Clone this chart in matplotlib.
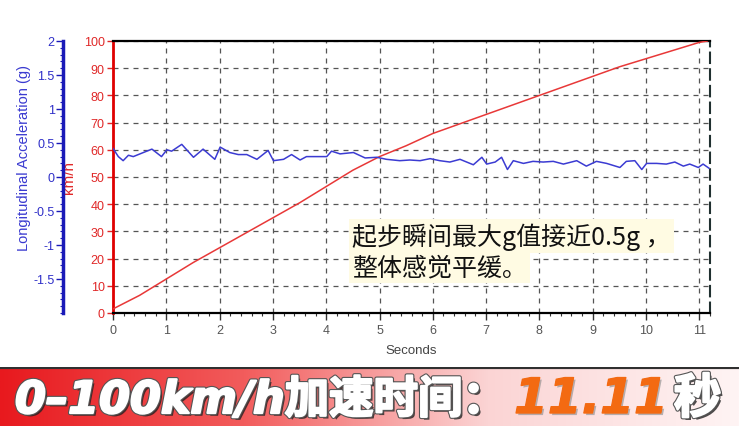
import matplotlib
matplotlib.use('Agg')
import matplotlib.pyplot as plt
import matplotlib.patheffects as pe
from matplotlib.ticker import MultipleLocator
import numpy as np

plt.rcParams['font.family'] = ['Liberation Sans', 'Noto Sans CJK SC', 'DejaVu Sans']

# speed trace (km/h vs s)
speed_t = [0, 0.5, 1.0, 1.5, 2.0, 2.5, 3.0, 3.5, 4.0, 4.5, 5.0, 5.5, 6.0,
           6.5, 7.0, 7.5, 8.0, 8.5, 9.0, 9.5, 10.0, 10.5, 11.0, 11.15]
speed_kmh = [1.5, 6.5, 12.5, 18.5, 24, 29.5, 35, 40.5, 46.5, 52.5, 57.5, 61.5, 66,
             69.5, 73, 76.5, 80, 83.5, 87, 90.5, 93.5, 96.5, 99.5, 100]

# longitudinal acceleration trace (g vs s)
acc_t = [0.00, 0.10, 0.19, 0.29, 0.38, 0.57, 0.73, 0.91, 1.01, 1.10, 1.29, 1.51,
         1.69, 1.91, 2.01, 2.19, 2.35, 2.51, 2.70, 2.91, 3.01, 3.20, 3.35, 3.51,
         3.63, 4.01, 4.10, 4.26, 4.51, 4.73, 4.95, 5.13, 5.38, 5.57, 5.76, 5.95,
         6.13, 6.32, 6.51, 6.76, 6.92, 7.01, 7.17, 7.29, 7.40, 7.51, 7.70, 7.88,
         8.07, 8.26, 8.45, 8.70, 8.88, 9.07, 9.26, 9.51, 9.63, 9.79, 9.92, 10.01,
         10.20, 10.38, 10.54, 10.70, 10.82, 10.98, 11.07, 11.18]
acc_g = [0.42, 0.30, 0.24, 0.32, 0.30, 0.36, 0.41, 0.30, 0.40, 0.38, 0.48, 0.29,
         0.41, 0.26, 0.44, 0.36, 0.33, 0.33, 0.26, 0.39, 0.24, 0.26, 0.33, 0.25,
         0.30, 0.30, 0.38, 0.34, 0.36, 0.28, 0.29, 0.26, 0.24, 0.25, 0.24, 0.27,
         0.24, 0.22, 0.26, 0.18, 0.29, 0.19, 0.22, 0.29, 0.11, 0.24, 0.20, 0.23,
         0.22, 0.23, 0.19, 0.24, 0.16, 0.23, 0.20, 0.14, 0.23, 0.24, 0.11, 0.20,
         0.20, 0.19, 0.22, 0.16, 0.19, 0.14, 0.19, 0.13]

sec_ticks = list(range(12))
kmh_ticks = list(range(0, 101, 10))
g_ticks = [-1.5, -1, -0.5, 0, 0.5, 1, 1.5, 2]
g_labels = ['-1.5', '-1', '-0.5', '0', '0.5', '1', '1.5', '2']

RED = '#e02828'
BLUE = '#2f2fc8'

fig = plt.figure(figsize=(7.39, 4.27), dpi=100)
W, H = 739, 427
ax = fig.add_axes([113 / W, 1 - 314 / H, (710 - 113) / W, (314 - 42) / H])

ax.plot(speed_t, speed_kmh, color='#e83838', lw=1.1, zorder=3)
ax.set_xlim(0, 11.2)
ax.set_ylim(0, 100)
ax.set_xticks(sec_ticks)
ax.xaxis.set_minor_locator(MultipleLocator(0.2))
ax.set_yticks(kmh_ticks)
ax.grid(True, which='major', ls=(0, (4, 4)), color='#555555', lw=0.9)
ax.tick_params(axis='x', which='major', length=5, width=1, colors='#333',
               labelcolor='#555', labelsize=9, pad=3)
ax.tick_params(axis='x', which='minor', length=2.5, width=0.8, colors='#333')
ax.tick_params(axis='y', which='major', length=4, width=1, colors=RED,
               labelcolor=RED, labelsize=9, pad=2)
for s in ['bottom', 'top']:
    ax.spines[s].set_color('black')
    ax.spines[s].set_linewidth(1.6)
ax.spines['left'].set_color('#e00000')
ax.spines['left'].set_linewidth(2)
ax.spines['right'].set_linestyle((0, (5, 3)))
ax.spines['right'].set_color('#203030')
ax.spines['right'].set_linewidth(1.5)
ax.set_xlabel('Seconds', fontsize=9.5, color='#444')
ax.xaxis.set_label_coords(0.499, -0.115)
ax.set_ylabel('km/h', fontsize=11, color=RED)
ax.yaxis.set_label_coords(-0.062, 0.5)

ax2 = ax.twinx()
ax2.plot(acc_t, acc_g, color='#3b3bd2', lw=1.1)
ax2.set_ylim(-2, 2)
ax2.yaxis.set_ticks_position('left')
ax2.yaxis.set_label_position('left')
ax2.spines['left'].set_position(('outward', 36))
ax2.spines['left'].set_visible(True)
ax2.spines['left'].set_color('#1a1ab8')
ax2.spines['left'].set_linewidth(2.5)
for s in ['right', 'top', 'bottom']:
    ax2.spines[s].set_visible(False)
ax2.set_yticks(g_ticks)
ax2.set_yticklabels(g_labels)
ax2.yaxis.set_minor_locator(MultipleLocator(0.1))
ax2.tick_params(axis='y', which='major', length=5, width=1, colors='#1a1ab8',
                labelcolor=BLUE, labelsize=9, pad=1)
ax2.tick_params(axis='y', which='minor', length=2.5, width=0.8, colors='#1a1ab8')
ax2.set_ylabel('Longitudinal Acceleration (g)', fontsize=10.5, color='#3a3ad0')
ax2.yaxis.set_label_coords(-0.138, 0.574)

# annotation
note_kw = dict(fontsize=18, color='#111', family=['Noto Sans CJK SC', 'DejaVu Sans'],
               va='center', ha='left',
               bbox=dict(boxstyle='square,pad=0.12', fc='#fffbe3', ec='none'))
fig.text(352 / W, 1 - 237 / H, '起步瞬间最大g值接近0.5g ，', **note_kw)
fig.text(352 / W, 1 - 268 / H, '整体感觉平缓。', **note_kw)

# banner
bax = fig.add_axes([0, 0, 1, 59 / H])
stops = np.array([0, 0.33, 0.66, 1.0])
cols = np.array([[232, 25, 30], [242, 92, 92], [251, 212, 212], [255, 244, 244]]) / 255
xs = np.linspace(0, 1, 400)
grad = np.stack([np.interp(xs, stops, cols[:, i]) for i in range(3)], axis=-1)
bax.imshow(grad[np.newaxis, :, :], aspect='auto', extent=[0, 1, 0, 1])
bax.axhline(1, color='#303030', lw=3)
bax.set_xlim(0, 1)
bax.set_ylim(0, 1)
bax.axis('off')

shadow = [pe.withSimplePatchShadow(offset=(2, -2), shadow_rgbFace='#222', alpha=0.8),
          pe.withStroke(linewidth=3.2, foreground='#555'),
          pe.withStroke(linewidth=1.6, foreground='white'), pe.Normal()]
fig.text(15 / W, 1 - 414 / H, '0–100km/h加速时间：', fontsize=32, weight='bold',
         style='italic', color='white', family=['DejaVu Sans', 'Noto Sans CJK SC'],
         va='baseline', ha='left', path_effects=shadow)
fig.text(514 / W, 1 - 414 / H, '11.11', fontsize=35, weight='bold', style='italic',
         color='#f36a12', family=['DejaVu Sans'], va='baseline', ha='left',
         path_effects=[pe.withSimplePatchShadow(offset=(1.5, -1.5), shadow_rgbFace='#888',
                                                alpha=0.6),
                       pe.withStroke(linewidth=1, foreground='#f36a12'), pe.Normal()])
fig.text(674 / W, 1 - 414 / H, '秒', fontsize=34, weight='bold', color='white',
         family=['Noto Sans CJK SC'], va='baseline', ha='left', path_effects=shadow)

fig.savefig('out.png', dpi=100)
